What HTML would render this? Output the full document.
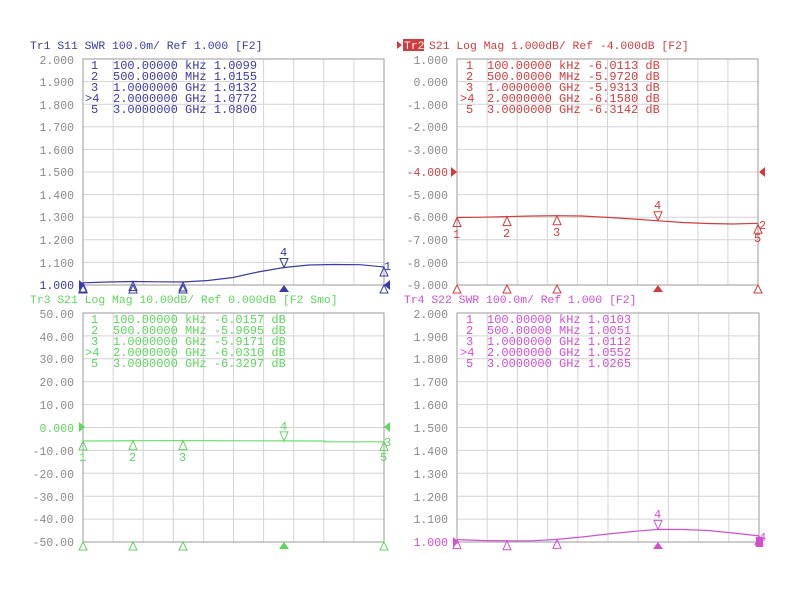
<!DOCTYPE html>
<html><head><meta charset="utf-8"><style>
body{margin:0;background:#fff;}
svg{display:block;font-family:"Liberation Mono",monospace;font-size:12px;}
.t{font-size:11.4px;}
.ax{fill:#8a8a8a;text-anchor:end;font-size:11.5px;}
.g{stroke:#d4d4d4;stroke-width:1;fill:none;}
.f{stroke:#9a9a9a;stroke-width:1;fill:none;}
</style></head><body>
<svg width="790" height="601" viewBox="0 0 790 601">
<!-- ===== TL ===== -->
<g>
<path class="g" d="M113.1 59V285M143.2 59V285M173.3 59V285M203.4 59V285M233.5 59V285M263.6 59V285M293.7 59V285M323.8 59V285M353.9 59V285M83 81.6H384M83 104.2H384M83 126.8H384M83 149.4H384M83 172H384M83 194.6H384M83 217.2H384M83 239.8H384M83 262.4H384"/>
<rect class="f" x="83" y="59" width="301" height="226"/>
<text class="t" x="30" y="49" fill="#3a3aa8">Tr1 S11 SWR 100.0m/ Ref 1.000 [F2]</text>
<g class="ax"><text x="74" y="64">2.000</text><text x="74" y="86">1.900</text><text x="74" y="109">1.800</text><text x="74" y="131">1.700</text><text x="74" y="154">1.600</text><text x="74" y="176">1.500</text><text x="74" y="199">1.400</text><text x="74" y="221">1.300</text><text x="74" y="244">1.200</text><text x="74" y="267">1.100</text><text x="74" y="289" fill="#3a3aa8">1.000</text></g>
<g fill="#3a3aa8"><text x="91" y="69">1</text><text x="113" y="69">100.00000 kHz  1.0099</text>
<text x="91" y="80">2</text><text x="113" y="80">500.00000 MHz  1.0155</text>
<text x="91" y="91">3</text><text x="113" y="91">1.0000000 GHz  1.0132</text>
<text x="85" y="102">&gt;4</text><text x="113" y="102">2.0000000 GHz  1.0772</text>
<text x="91" y="113">5</text><text x="113" y="113">3.0000000 GHz  1.0800</text></g>
<polyline fill="none" stroke="#3a3aa8" stroke-width="1.2" points="83,282.8 108,282 133,281.5 158,281.8 183,282 208,280.5 233,277.5 258,272 284,267.5 309,265 334,264.5 360,264.7 384,267"/>
<g fill="none" stroke="#3a3aa8"><path d="M83 283l-4 9h8z"/><path d="M133 281.5l-4 9h8z"/><path d="M183 282l-4 9h8z"/><path d="M284 267.5l-4-9h8z"/><path d="M384 267l-4 9h8z"/>
<path d="M83 285l-4 8h8z"/><path d="M133 285l-4 8h8z"/><path d="M183 285l-4 8h8z"/><path d="M384 285l-4 8h8z"/></g>
<g fill="#3a3aa8"><path d="M284 285l-5 7h10z"/><path d="M79 280l6 5-6 5z"/><path d="M390 280l-6 5 6 5z"/>
<text x="280" y="256">4</text><text x="384" y="270">1</text></g>
</g>
<!-- ===== TR ===== -->
<g>
<path class="g" d="M487.1 59V285M517.2 59V285M547.3 59V285M577.4 59V285M607.5 59V285M637.6 59V285M667.7 59V285M697.8 59V285M727.9 59V285M457 81.6H758M457 104.2H758M457 126.8H758M457 149.4H758M457 172H758M457 194.6H758M457 217.2H758M457 239.8H758M457 262.4H758"/>
<rect class="f" x="457" y="59" width="301" height="226"/>
<path d="M397 41l5 4-5 4z" fill="#d23c3c"/>
<rect x="403" y="39" width="21" height="12" fill="#d23c3c"/>
<text class="t" x="404" y="49" fill="#fff">Tr2</text>
<text class="t" x="429" y="49" fill="#d23c3c">S21 Log Mag 1.000dB/ Ref -4.000dB [F2]</text>
<g class="ax"><text x="448" y="64">1.000</text><text x="448" y="86">0.000</text><text x="448" y="109">-1.000</text><text x="448" y="131">-2.000</text><text x="448" y="154">-3.000</text><text x="448" y="176" fill="#d23c3c">-4.000</text><text x="448" y="199">-5.000</text><text x="448" y="221">-6.000</text><text x="448" y="244">-7.000</text><text x="448" y="267">-8.000</text><text x="448" y="289">-9.000</text></g>
<g fill="#d23c3c"><text x="466" y="69">1</text><text x="487" y="69">100.00000 kHz -6.0113 dB</text>
<text x="466" y="80">2</text><text x="487" y="80">500.00000 MHz -5.9720 dB</text>
<text x="466" y="91">3</text><text x="487" y="91">1.0000000 GHz -5.9313 dB</text>
<text x="460" y="102">&gt;4</text><text x="487" y="102">2.0000000 GHz -6.1580 dB</text>
<text x="466" y="113">5</text><text x="487" y="113">3.0000000 GHz -6.3142 dB</text></g>
<polyline fill="none" stroke="#d23c3c" stroke-width="1.2" points="457,217.5 482,217.2 507,216.6 532,216 557,215.7 582,216 607,217.4 633,219 658,220.8 683,222.5 708,223.5 733,224 758,223.3"/>
<g fill="none" stroke="#d23c3c"><path d="M457 217.5l-4 9h8z"/><path d="M507 216.6l-4 9h8z"/><path d="M557 215.7l-4 9h8z"/><path d="M658 220.8l-4-9h8z"/><path d="M758 224.3l-4 9h8z"/>
<path d="M457 285l-4 8h8z"/><path d="M507 285l-4 8h8z"/><path d="M557 285l-4 8h8z"/><path d="M758 285l-4 8h8z"/></g>
<g fill="#d23c3c"><path d="M658 285l-5 7h10z"/><path d="M451 167l6 5-6 5z"/><path d="M765 167l-6 5 6 5z"/>
<text x="453" y="238">1</text><text x="503" y="237">2</text><text x="553" y="236">3</text><text x="654" y="209">4</text><text x="754" y="242">5</text><text x="759" y="229">2</text></g>
</g>
<!-- ===== BL ===== -->
<g>
<path class="g" d="M113.1 313V542M143.2 313V542M173.3 313V542M203.4 313V542M233.5 313V542M263.6 313V542M293.7 313V542M323.8 313V542M353.9 313V542M83 335.9H384M83 358.8H384M83 381.7H384M83 404.6H384M83 427.5H384M83 450.4H384M83 473.3H384M83 496.2H384M83 519.1H384"/>
<rect class="f" x="83" y="313" width="301" height="229"/>
<text class="t" x="30" y="303" fill="#5cd65c">Tr3 S21 Log Mag 10.00dB/ Ref 0.000dB [F2 Smo]</text>
<g class="ax"><text x="74" y="318">50.00</text><text x="74" y="341">40.00</text><text x="74" y="363">30.00</text><text x="74" y="386">20.00</text><text x="74" y="409">10.00</text><text x="74" y="432" fill="#5cd65c">0.000</text><text x="74" y="455">-10.00</text><text x="74" y="478">-20.00</text><text x="74" y="501">-30.00</text><text x="74" y="523">-40.00</text><text x="74" y="546">-50.00</text></g>
<g fill="#5cd65c"><text x="91" y="323">1</text><text x="113" y="323">100.00000 kHz -6.0157 dB</text>
<text x="91" y="334">2</text><text x="113" y="334">500.00000 MHz -5.9695 dB</text>
<text x="91" y="345">3</text><text x="113" y="345">1.0000000 GHz -5.9171 dB</text>
<text x="85" y="356">&gt;4</text><text x="113" y="356">2.0000000 GHz -6.0310 dB</text>
<text x="91" y="367">5</text><text x="113" y="367">3.0000000 GHz -6.3297 dB</text></g>
<polyline fill="none" stroke="#6ee06e" stroke-width="1.2" points="83,441 133,440.7 183,440.6 284,440.9 325,441 325,441.8 384,441.8"/>
<g fill="none" stroke="#5cd65c"><path d="M83 441l-4 9h8z"/><path d="M133 440.7l-4 9h8z"/><path d="M183 440.6l-4 9h8z"/><path d="M284 440.9l-4-9h8z"/><path d="M384 441.6l-4 9h8z"/>
<path d="M83 542l-4 8h8z"/><path d="M133 542l-4 8h8z"/><path d="M183 542l-4 8h8z"/><path d="M384 542l-4 8h8z"/></g>
<g fill="#5cd65c"><path d="M284 542l-5 7h10z"/><path d="M79 422l6 5-6 5z"/><path d="M390 422l-6 5 6 5z"/>
<text x="79" y="461">1</text><text x="129" y="461">2</text><text x="179" y="461">3</text><text x="280" y="430">4</text><text x="380" y="461">5</text><text x="384" y="446">3</text></g>
</g>
<!-- ===== BR ===== -->
<g>
<path class="g" d="M487.2 313V542M517.4 313V542M547.6 313V542M577.8 313V542M608 313V542M638.2 313V542M668.4 313V542M698.6 313V542M728.8 313V542M457 335.9H759M457 358.8H759M457 381.7H759M457 404.6H759M457 427.5H759M457 450.4H759M457 473.3H759M457 496.2H759M457 519.1H759"/>
<rect class="f" x="457" y="313" width="302" height="229"/>
<text class="t" x="404" y="303" fill="#d24fd2">Tr4 S22 SWR 100.0m/ Ref 1.000 [F2]</text>
<g class="ax"><text x="448" y="318">2.000</text><text x="448" y="341">1.900</text><text x="448" y="363">1.800</text><text x="448" y="386">1.700</text><text x="448" y="409">1.600</text><text x="448" y="432">1.500</text><text x="448" y="455">1.400</text><text x="448" y="478">1.300</text><text x="448" y="501">1.200</text><text x="448" y="523">1.100</text><text x="448" y="546" fill="#d24fd2">1.000</text></g>
<g fill="#d24fd2"><text x="466" y="323">1</text><text x="487" y="323">100.00000 kHz  1.0103</text>
<text x="466" y="334">2</text><text x="487" y="334">500.00000 MHz  1.0051</text>
<text x="466" y="345">3</text><text x="487" y="345">1.0000000 GHz  1.0112</text>
<text x="460" y="356">&gt;4</text><text x="487" y="356">2.0000000 GHz  1.0552</text>
<text x="466" y="367">5</text><text x="487" y="367">3.0000000 GHz  1.0265</text></g>
<polyline fill="none" stroke="#d24fd2" stroke-width="1.2" points="457,539.6 482,540.5 507,540.8 532,540.8 557,539.4 582,537 608,534 633,531.5 658,529.4 683,529.5 708,530.5 733,533 759,535.9"/>
<g fill="none" stroke="#d24fd2"><path d="M457 539.6l-4 9h8z"/><path d="M507 540.8l-4 9h8z"/><path d="M557 539.4l-4 9h8z"/><path d="M658 529.4l-4-9h8z"/><path d="M759 535.9l-4 9h8z"/></g>
<g fill="#d24fd2"><path d="M658 542l-5 7h10z"/><path d="M453 537l6 5-6 5z"/><rect x="756" y="537" width="7" height="10"/>
<text x="654" y="518">4</text><text x="759" y="541">4</text></g>
</g>
</svg>
</body></html>
